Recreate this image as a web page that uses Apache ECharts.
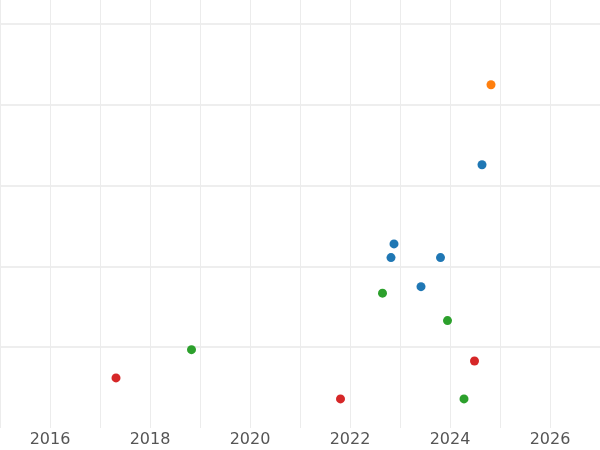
<!DOCTYPE html>
<html>
<head>
<meta charset="utf-8">
<script src="https://cdn.jsdelivr.net/npm/echarts@6/dist/echarts.min.js"></script>
<style>html,body{margin:0;padding:0;background:#fff}#chart{width:600px;height:450px}</style>
</head>
<body>
<div id="chart"></div>
<script>
const orangePts = [[2024.82, 4.25]];
const bluePts = [[2024.64, 3.26], [2022.88, 2.28], [2022.82, 2.11], [2023.81, 2.11], [2023.42, 1.75]];
const greenPts = [[2022.65, 1.67], [2023.95, 1.33], [2018.83, 0.97], [2024.28, 0.36]];
const redPts = [[2017.32, 0.62], [2024.49, 0.83], [2021.81, 0.36]];

const chart = echarts.init(document.getElementById('chart'));
const mk = (data, color) => ({
  type: 'scatter', data, symbolSize: 9,
  itemStyle: { color, opacity: 1 }
});
chart.setOption({
  animation: false,
  grid: { left: -16.5, right: -2.6, top: 0, bottom: 22 },
  xAxis: {
    type: 'value', min: 2015, max: 2027, interval: 1,
    axisLine: { show: false }, axisTick: { show: false },
    axisLabel: {
      color: '#555', fontSize: 16, fontFamily: 'DejaVu Sans', margin: 4,
      showMinLabel: false, showMaxLabel: false,
      formatter: v => (v % 2 === 0) ? String(v) : ''
    },
    splitLine: { lineStyle: { color: '#ececec', width: 1 } }
  },
  yAxis: {
    type: 'value', min: 0, max: 5.3, interval: 1,
    axisLine: { show: false }, axisTick: { show: false },
    axisLabel: { show: false },
    splitLine: { showMinLine: false, showMaxLine: false, lineStyle: { color: '#e8e8e8', width: 1.5 } }
  },
  series: [
    mk(bluePts, '#1f77b4'),
    mk(orangePts, '#ff7f0e'),
    mk(greenPts, '#2ca02c'),
    mk(redPts, '#d62728')
  ]
});
</script>
</body>
</html>
